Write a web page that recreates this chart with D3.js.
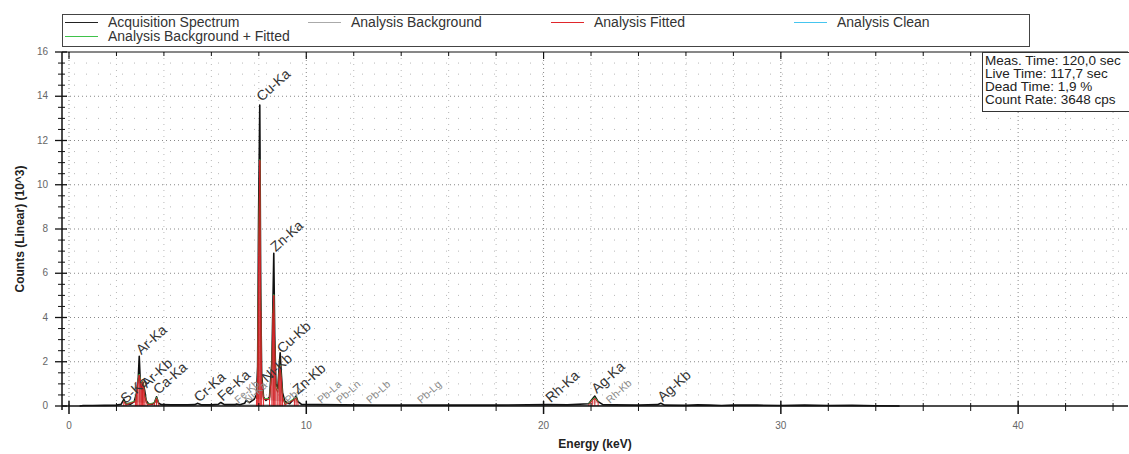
<!DOCTYPE html>
<html>
<head>
<meta charset="utf-8">
<script src="https://cdn.jsdelivr.net/npm/d3@7"></script>
<style>
  body { margin: 0; background: #fff; }
  svg { display: block; }
  text { font-family: "Liberation Sans", Arial, sans-serif; }
</style>
</head>
<body>
<div id="chart"></div>
<script>
// acquisition spectrum, energy (keV) / counts (10^3)
const acqEnergy = [0.45, 0.6, 1.0, 1.5, 2.0, 2.2, 2.31, 2.4, 2.6, 2.75, 2.85, 2.92, 2.96, 3.0, 3.05, 3.1, 3.15, 3.19, 3.25, 3.35, 3.5, 3.6, 3.69, 3.78, 3.9, 4.3, 5.0, 5.3, 5.41, 5.6, 6.0, 6.3, 6.4, 6.55, 7.0, 7.06, 7.2, 7.4, 7.47, 7.6, 7.8, 7.9, 7.95, 7.99, 8.04, 8.08, 8.12, 8.2, 8.3, 8.45, 8.55, 8.6, 8.63, 8.67, 8.72, 8.8, 8.86, 8.9, 8.94, 9.0, 9.1, 9.3, 9.5, 9.57, 9.65, 9.8, 10.5, 11.5, 13, 15, 18, 20.2, 21, 21.9, 22.05, 22.16, 22.3, 22.5, 23, 24.0, 24.8, 24.94, 25.1, 26, 26.5, 27, 27.5, 28, 29, 30, 31, 32, 33, 34, 35];
const acqCounts = [0, 0.02, 0.02, 0.03, 0.04, 0.08, 0.3, 0.1, 0.08, 0.2, 0.6, 1.3, 2.25, 1.2, 0.8, 1.1, 0.9, 0.7, 0.25, 0.1, 0.08, 0.15, 0.42, 0.12, 0.06, 0.05, 0.05, 0.06, 0.12, 0.05, 0.05, 0.08, 0.16, 0.06, 0.06, 0.09, 0.06, 0.12, 0.25, 0.15, 0.3, 0.5, 1.8, 8.6, 13.6, 5.2, 1.4, 0.4, 0.25, 0.4, 2.0, 5.0, 6.9, 3.2, 1.0, 0.8, 1.8, 2.4, 1.6, 0.6, 0.2, 0.1, 0.35, 0.45, 0.2, 0.07, 0.06, 0.05, 0.04, 0.04, 0.04, 0.06, 0.05, 0.1, 0.3, 0.45, 0.2, 0.06, 0.05, 0.04, 0.06, 0.12, 0.04, 0.03, 0.05, 0.04, 0.02, 0.04, 0.04, 0.02, 0.04, 0.02, 0.03, 0.01, 0];

// analysis background
const bgEnergy = [0.45, 1.0, 2.0, 3.0, 4.0, 6.0, 8.0, 10, 15, 20, 25, 30, 35];
const bgCounts = [0, 0.02, 0.03, 0.04, 0.04, 0.04, 0.05, 0.04, 0.03, 0.03, 0.02, 0.02, 0];

// analysis fitted
const fitEnergy = [2.2, 2.31, 2.4, 2.8, 2.85, 2.9, 2.96, 3.0, 3.05, 3.1, 3.15, 3.2, 3.3, 3.6, 3.69, 3.78, 3.9, 7.9, 7.95, 7.99, 8.04, 8.08, 8.12, 8.2, 8.45, 8.55, 8.6, 8.63, 8.67, 8.72, 8.8, 8.86, 8.9, 8.94, 9.0, 9.1, 9.5, 9.57, 9.65, 9.8, 21.9, 22.05, 22.16, 22.3, 22.5];
const fitCounts = [0, 0.2, 0.05, 0.2, 0.6, 1.1, 1.4, 1.2, 0.9, 1.1, 0.8, 0.4, 0.05, 0.1, 0.35, 0.1, 0, 0.3, 1.3, 6.8, 11.1, 4.3, 1.1, 0.3, 0.3, 1.6, 4.2, 5.0, 2.6, 0.8, 0.6, 1.5, 1.8, 1.3, 0.4, 0.05, 0.3, 0.35, 0.15, 0, 0.05, 0.25, 0.35, 0.15, 0];

// peak labels
const peakNames  = ["S-Ka", "Ar-Ka", "Ar-Kb", "Ca-Ka", "Cr-Ka", "Fe-Ka", "Fe-Kb", "Ni-Ka", "Cu-Ka", "Ni-Kb", "Zn-Ka", "Cu-Kb", "Pb-Ll", "Zn-Kb", "Pb-La", "Pb-Ln", "Pb-Lb", "Pb-Lg", "Rh-Ka", "Ag-Ka", "Rh-Kb", "Ag-Kb"];
const peakEnergy = [2.31, 2.96, 3.19, 3.69, 5.41, 6.40, 7.06, 7.47, 8.04, 8.26, 8.63, 8.90, 9.18, 9.57, 10.55, 11.35, 12.61, 14.76, 20.22, 22.16, 22.72, 24.94];
const peakLevel  = [0.05, 2.25, 0.75, 0.45, 0.1, 0.15, 0.05, 0.05, 13.7, 1.0, 6.9, 2.3, 0.05, 0.45, 0.05, 0.05, 0.05, 0.05, 0.08, 0.5, 0.05, 0.12];
const peakMinor  = [false, false, false, false, false, false, true, true, false, false, false, false, true, false, true, true, true, true, false, false, true, false];

const xMajorTicks = [0, 10, 20, 30, 40];
const xMinorTicks = d3.range(0, 45, 2);
const yMajorTicks = [0, 2, 4, 6, 8, 10, 12, 14, 16];
const yMinorTicks = d3.range(0, 16.01, 0.5);

const legendNames = ["Acquisition Spectrum", "Analysis Background", "Analysis Fitted", "Analysis Clean", "Analysis Background + Fitted"];
const legendColours = ["#222", "#aaa", "#e0262b", "#45c5ef", "#3fc24a"];
const infoLines = ["Meas. Time: 120,0 sec", "Live Time: 117,7 sec", "Dead Time: 1,9 %", "Count Rate: 3648 cps"];

const W = 1129, H = 454;
const pL = 62, pR = 1128, pT = 52, pB = 406;

const svg = d3.select('#chart').append('svg')
    .attr('width', W).attr('height', H);

const x = d3.scaleLinear().domain([-0.295, 44.63]).range([pL, pR]);
const y = d3.scaleLinear().domain([0, 16]).range([pB, pT]);

// grid
const grid = svg.append('g');
yMinorTicks.filter(v => v > 0 && v < 16 && v % 2 !== 0).forEach(v => {
    grid.append('line')
        .attr('x1', pL).attr('x2', pR).attr('y1', y(v)).attr('y2', y(v))
        .attr('stroke', '#b8b8b8').attr('stroke-dasharray', '1,11');
});
yMajorTicks.filter(v => v > 0 && v < 16).forEach(v => {
    grid.append('line')
        .attr('x1', pL).attr('x2', pR).attr('y1', y(v)).attr('y2', y(v))
        .attr('stroke', '#888').attr('stroke-dasharray', '1,3');
});
xMinorTicks.filter(v => v % 10 !== 0).forEach(v => {
    grid.append('line')
        .attr('x1', x(v)).attr('x2', x(v)).attr('y1', pT).attr('y2', pB)
        .attr('stroke', '#b8b8b8').attr('stroke-dasharray', '1,5');
});
xMajorTicks.forEach(v => {
    grid.append('line')
        .attr('x1', x(v)).attr('x2', x(v)).attr('y1', pT).attr('y2', pB)
        .attr('stroke', '#888').attr('stroke-dasharray', '1,3');
});

// data
const acq = acqEnergy.map((e, i) => ({e: e, c: acqCounts[i]}));
const bg = bgEnergy.map((e, i) => ({e: e, c: bgCounts[i]}));
const fit = fitEnergy.map((e, i) => ({e: e, c: fitCounts[i]}));

const line = d3.line()
    .x(d => x(d.e))
    .y(d => y(d.c));

svg.append('path')
    .datum(bg)
    .attr('d', line)
    .attr('fill', 'none').attr('stroke', '#aaa').attr('stroke-width', 1);

svg.append('path')
    .datum(acq)
    .attr('d', line)
    .attr('fill', 'none').attr('stroke', '#111').attr('stroke-width', 1.6)
    .attr('stroke-linejoin', 'round');

// fitted: stems + outline, only where the fit is non zero
const fitLine = d3.line()
    .defined(d => d.c > 0)
    .x(d => x(d.e))
    .y(d => y(d.c));

svg.append('path')
    .datum(fit.map(d => ({e: d.e, c: d.c > 0 ? d.c + 0.04 : 0})))
    .attr('d', fitLine)
    .attr('fill', 'none').attr('stroke', '#3fc24a').attr('stroke-width', 1);

svg.append('g').selectAll('line')
    .data(fit.filter(d => d.c > 0.04))
    .join('line')
    .attr('x1', d => x(d.e)).attr('x2', d => x(d.e))
    .attr('y1', y(0)).attr('y2', d => y(d.c))
    .attr('stroke', '#e0262b').attr('stroke-width', 1);

svg.append('path')
    .datum(fit)
    .attr('d', fitLine)
    .attr('fill', 'rgba(150,0,0,0.2)').attr('stroke', '#c81e24').attr('stroke-width', 1);

// peak labels
const labels = svg.append('g');
peakNames.forEach((n, i) => {
    labels.append('text')
        .attr('transform', 'translate(' + (x(peakEnergy[i]) + 2) + ',' + (y(peakLevel[i]) - 1) + ') rotate(-42)')
        .attr('font-size', peakMinor[i] ? 10.5 : 14)
        .attr('fill', peakMinor[i] ? '#8a8a8a' : '#333')
        .text(n);
});

// axes
const axes = svg.append('g').attr('stroke', '#111');
axes.append('line').attr('x1', pL).attr('x2', pR).attr('y1', pB).attr('y2', pB).attr('stroke-width', 1.5);
axes.append('line').attr('x1', pL).attr('x2', pL).attr('y1', pT).attr('y2', pB + 4).attr('stroke-width', 1.5);
axes.append('line').attr('x1', pL).attr('x2', pR).attr('y1', pT).attr('y2', pT).attr('stroke-width', 1);

xMinorTicks.filter(v => v % 10 !== 0).forEach(v => {
    axes.append('line').attr('x1', x(v)).attr('x2', x(v)).attr('y1', pB - 3).attr('y2', pB + 5);
    axes.append('line').attr('x1', x(v)).attr('x2', x(v)).attr('y1', pT).attr('y2', pT + 4);
});
xMajorTicks.forEach(v => {
    axes.append('line').attr('x1', x(v)).attr('x2', x(v)).attr('y1', pB - 5).attr('y2', pB + 8).attr('stroke-width', 1.5);
    axes.append('line').attr('x1', x(v)).attr('x2', x(v)).attr('y1', pT).attr('y2', pT + 7).attr('stroke-width', 1.2);
});
yMinorTicks.filter(v => v % 2 !== 0).forEach(v => {
    axes.append('line').attr('x1', pL - 4).attr('x2', pL + 3).attr('y1', y(v)).attr('y2', y(v));
});
yMajorTicks.forEach(v => {
    axes.append('line').attr('x1', pL - 7).attr('x2', pL + 5).attr('y1', y(v)).attr('y2', y(v)).attr('stroke-width', 1.3);
});

svg.append('g').selectAll('text')
    .data(xMajorTicks)
    .join('text')
    .attr('x', d => x(d)).attr('y', pB + 23)
    .attr('text-anchor', 'middle')
    .attr('font-family', 'Open Sans').attr('font-size', 10).attr('fill', '#666')
    .text(d => d);

svg.append('g').selectAll('text')
    .data(yMajorTicks)
    .join('text')
    .attr('x', pL - 14).attr('y', d => y(d) + 3)
    .attr('text-anchor', 'end')
    .attr('font-family', 'Open Sans').attr('font-size', 10).attr('fill', '#666')
    .text(d => d);

svg.append('text')
    .attr('x', (pL + pR) / 2).attr('y', 448)
    .attr('text-anchor', 'middle')
    .attr('font-family', 'Open Sans').attr('font-weight', 'bold').attr('font-size', 12).attr('fill', '#222')
    .text('Energy (keV)');

svg.append('text')
    .attr('transform', 'translate(24,' + ((pT + pB) / 2) + ') rotate(-90)')
    .attr('text-anchor', 'middle')
    .attr('font-family', 'Open Sans').attr('font-weight', 'bold').attr('font-size', 12).attr('fill', '#222')
    .text('Counts (Linear) (10^3)');

// legend
const legend = svg.append('g');
legend.append('rect')
    .attr('x', 62.5).attr('y', 14.5).attr('width', 967).attr('height', 32)
    .attr('fill', '#fff').attr('stroke', '#444');
legendNames.forEach((n, i) => {
    const col = i < 4 ? i : 0;
    const row = i < 4 ? 0 : 1;
    const lx = 108 + col * 243;
    const ly = 22.5 + row * 14;
    legend.append('line')
        .attr('x1', lx - 43).attr('x2', lx - 10).attr('y1', ly).attr('y2', ly)
        .attr('stroke', legendColours[i]).attr('stroke-width', 1.2);
    legend.append('text')
        .attr('x', lx).attr('y', ly + 4.5)
        .attr('font-size', 14).attr('fill', '#333')
        .text(n);
});

// info box
const info = svg.append('g');
info.append('rect')
    .attr('x', 982.5).attr('y', 52.5).attr('width', 150).attr('height', 59)
    .attr('fill', '#fff').attr('stroke', '#333');
infoLines.forEach((t, i) => {
    info.append('text')
        .attr('x', 985).attr('y', 64.5 + i * 13)
        .attr('font-size', 13.5).attr('fill', '#222')
        .text(t);
});
</script>
</body>
</html>
